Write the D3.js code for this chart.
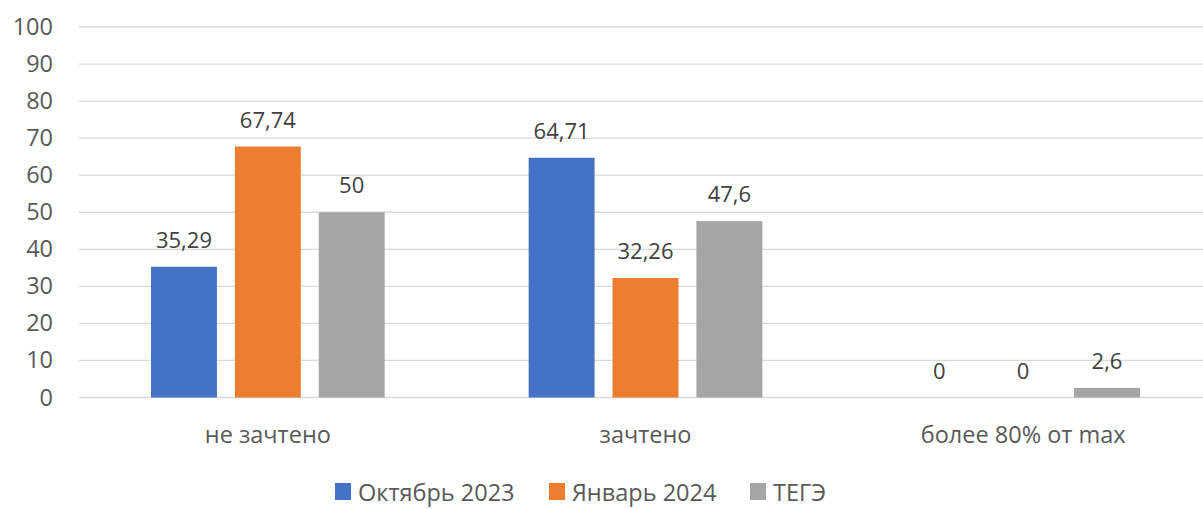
<!DOCTYPE html>
<html>
<head>
<meta charset="utf-8">
<script src="https://cdn.jsdelivr.net/npm/d3@7"></script>
<style>
  body { margin: 0; background: #fff; }
  svg text { font-family: "Open Sans", "Noto Sans", sans-serif; }
</style>
</head>
<body>
<div id="chart"></div>
<script>
let categories = ["не зачтено", "зачтено", "более 80% от max"]
let seriesNames = ["Октябрь 2023", "Январь 2024", "ТЕГЭ"]
let october = [35.29, 64.71, 0]
let january = [67.74, 32.26, 0]
let tege = [50, 47.6, 2.6]
let yTicks = [0, 10, 20, 30, 40, 50, 60, 70, 80, 90, 100]
let colors = ["#4472c4", "#ed7d31", "#a5a5a5"]

let seriesValues = [october, january, tege]

let width = 1203
let height = 509
let margin = { top: 27, right: -9, bottom: 111, left: 79 }

let svg = d3.select("#chart")
  .append("svg")
  .attr("width", width)
  .attr("height", height)

// category bands run a little past the right edge, like the cropped original
let x0 = d3.scaleBand()
  .domain(categories)
  .range([margin.left, width - margin.right])

let x1 = d3.scaleBand()
  .domain(seriesNames)
  .range([72, x0.bandwidth() - 72])
  .paddingInner(0.214)

let y = d3.scaleLinear()
  .domain([0, 100])
  .range([height - margin.bottom - 0.5, margin.top])

// gridlines
svg.append("g")
  .selectAll("line")
  .data(yTicks)
  .enter().append("line")
    .attr("x1", margin.left)
    .attr("x2", width)
    .attr("y1", d => y(d))
    .attr("y2", d => y(d))
    .attr("stroke", "#d9d9d9")
    .attr("stroke-width", 1.3)

let yAxis = g => g
  .attr("transform", `translate(${margin.left - 26},0)`)
  .call(d3.axisLeft(y).tickValues(yTicks).tickSize(0).tickPadding(0))
  .call(g => g.select(".domain").remove())
  .call(g => g.selectAll("text")
    .attr("fill", "#595959")
    .style("font-size", "23.5px")
    .style("font-family", "'Open Sans', 'Noto Sans', sans-serif"))

svg.append("g").call(yAxis)

let rows = []
categories.forEach((c, i) => {
  seriesNames.forEach((s, j) => {
    rows.push({ cat: c, series: s, value: seriesValues[j][i], color: colors[j] })
  })
})

svg.append("g")
  .selectAll("rect")
  .data(rows)
  .enter().append("rect")
    .attr("x", d => x0(d.cat) + x1(d.series))
    .attr("y", d => y(d.value))
    .attr("width", x1.bandwidth())
    .attr("height", d => y(0) - y(d.value))
    .attr("fill", d => d.color)

svg.append("g")
  .attr("fill", "#404040")
  .attr("text-anchor", "middle")
  .style("font-size", "22px")
  .selectAll("text")
  .data(rows)
  .enter().append("text")
    .attr("x", d => x0(d.cat) + x1(d.series) + x1.bandwidth() / 2)
    .attr("y", d => y(d.value) - 19)
    .text(d => String(d.value).replace(".", ","))

let xAxis = g => g
  .attr("transform", `translate(0,${height - margin.bottom})`)
  .call(d3.axisBottom(x0).tickSize(0).tickPadding(28))
  .call(g => g.select(".domain").remove())
  .call(g => g.selectAll("text")
    .attr("fill", "#595959")
    .style("font-size", "23.5px")
    .style("font-family", "'Open Sans', 'Noto Sans', sans-serif"))

svg.append("g").call(xAxis)

// legend
let legendX = [335, 549, 750]
let legend = svg.append("g")
  .selectAll("g")
  .data(seriesNames)
  .enter().append("g")
    .attr("transform", (d, i) => `translate(${legendX[i]},483)`)

legend.append("rect")
  .attr("width", 16)
  .attr("height", 17)
  .attr("fill", (d, i) => colors[i])

legend.append("text")
  .attr("x", 23)
  .attr("y", 18)
  .attr("fill", "#595959")
  .style("font-size", "23.5px")
  .text(d => d)
</script>
</body>
</html>
